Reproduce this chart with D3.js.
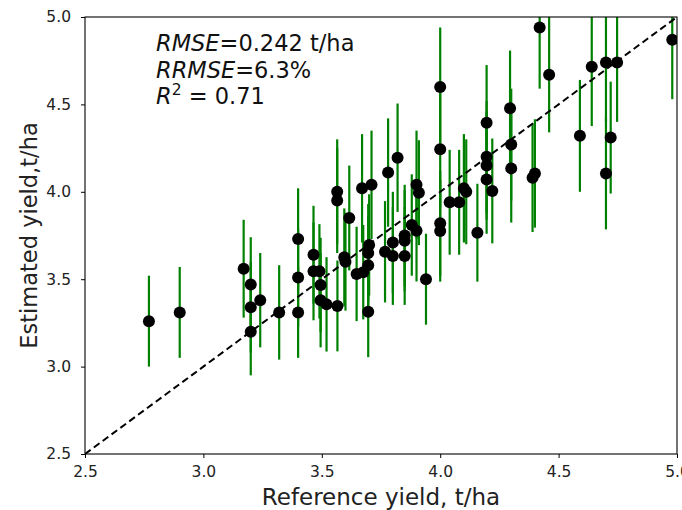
<!DOCTYPE html>
<html>
<head>
<meta charset="utf-8">
<script src="https://cdn.jsdelivr.net/npm/d3@7"></script>
<style>
  body { margin: 0; background: #fff; }
  svg { font-family: "DejaVu Sans", sans-serif; }
</style>
</head>
<body>
<svg id="chart"></svg>
<script>
// reference yield (x), estimated yield (y), error bar half length
var refYield = [2.77, 2.90, 3.17, 3.20, 3.20, 3.20, 3.24, 3.32, 3.40, 3.40, 3.40,
  3.465, 3.465, 3.49, 3.495, 3.495, 3.52, 3.565, 3.565, 3.566, 3.595, 3.60, 3.616,
  3.647, 3.67, 3.675, 3.696, 3.696, 3.70, 3.696, 3.71, 3.767, 3.78, 3.80, 3.80,
  3.82, 3.85, 3.85, 3.85, 3.88, 3.90, 3.90, 3.91, 3.94, 4.00, 4.00, 4.00, 4.00,
  4.04, 4.08, 4.10, 4.11, 4.157, 4.196, 4.196, 4.196, 4.196, 4.22, 4.295, 4.30,
  4.30, 4.39, 4.40, 4.42, 4.46, 4.59, 4.64, 4.70, 4.70, 4.72, 4.747, 4.98];
var estYield = [3.26, 3.31, 3.56, 3.47, 3.34, 3.20, 3.38, 3.31, 3.73, 3.51, 3.31,
  3.64, 3.545, 3.545, 3.467, 3.38, 3.356, 4.00, 3.95, 3.347, 3.625, 3.60, 3.85,
  3.53, 4.02, 3.54, 3.58, 3.65, 3.696, 3.314, 4.04, 3.657, 4.11, 3.71, 3.633,
  4.195, 3.75, 3.72, 3.633, 3.81, 3.777, 4.04, 3.995, 3.50, 4.60, 4.243, 3.82, 3.776,
  3.94, 3.94, 4.02, 4.00, 3.766, 4.395, 4.20, 4.15, 4.07, 4.005, 4.478, 4.27,
  4.134, 4.08, 4.105, 4.94, 4.67, 4.32, 4.716, 4.74, 4.105, 4.31, 4.74, 4.87];
var errYield = [0.26, 0.26, 0.28, 0.27, 0.26, 0.25, 0.27, 0.27, 0.29, 0.28, 0.26,
  0.28, 0.28, 0.27, 0.27, 0.27, 0.27, 0.30, 0.30, 0.26, 0.28, 0.28, 0.30,
  0.27, 0.31, 0.27, 0.28, 0.28, 0.29, 0.26, 0.31, 0.29, 0.31, 0.29, 0.28,
  0.31, 0.29, 0.29, 0.28, 0.29, 0.29, 0.31, 0.30, 0.26, 0.34, 0.33, 0.30, 0.29,
  0.30, 0.30, 0.31, 0.30, 0.28, 0.33, 0.32, 0.31, 0.31, 0.30, 0.33, 0.32,
  0.31, 0.31, 0.31, 0.35, 0.33, 0.32, 0.34, 0.34, 0.32, 0.32, 0.34, 0.34];

var xTicks = [2.5, 3.0, 3.5, 4.0, 4.5, 5.0];
var yTicks = [2.5, 3.0, 3.5, 4.0, 4.5, 5.0];

var width = 682,
    height = 510;
var margin = {left: 85, right: 5, top: 17, bottom: 56};

var svg = d3.select("#chart")
    .attr("width", width)
    .attr("height", height);

var x = d3.scaleLinear()
    .domain([2.5, 5.0])
    .range([margin.left, width - margin.right]);

var y = d3.scaleLinear()
    .domain([2.5, 5.0])
    .range([height - margin.bottom, margin.top]);

var points = refYield.map(function(d, i) {
  return {x: d, y: estYield[i], e: errYield[i]};
});

svg.append("clipPath")
    .attr("id", "plotclip")
  .append("rect")
    .attr("x", x(2.5))
    .attr("y", y(5.0))
    .attr("width", x(5.0) - x(2.5))
    .attr("height", y(2.5) - y(5.0));

var plot = svg.append("g")
    .attr("clip-path", "url(#plotclip)");

// error bars
plot.selectAll("line.err")
    .data(points)
  .enter().append("line")
    .attr("class", "err")
    .attr("x1", function(d) { return x(d.x); })
    .attr("x2", function(d) { return x(d.x); })
    .attr("y1", function(d) { return y(d.y - d.e); })
    .attr("y2", function(d) { return y(d.y + d.e); })
    .attr("stroke", "#008000")
    .attr("stroke-width", 2.2);

// 1:1 line
plot.append("line")
    .attr("x1", x(2.5))
    .attr("y1", y(2.5))
    .attr("x2", x(5.0))
    .attr("y2", y(5.0))
    .attr("stroke", "#000")
    .attr("stroke-width", 2)
    .attr("stroke-dasharray", "7,4");

// points
plot.selectAll("circle")
    .data(points)
  .enter().append("circle")
    .attr("cx", function(d) { return x(d.x); })
    .attr("cy", function(d) { return y(d.y); })
    .attr("r", 6)
    .attr("fill", "#000");

// axes
var xAxis = svg.append("g")
    .attr("transform", "translate(0," + y(2.5) + ")")
    .call(d3.axisBottom(x).tickValues(xTicks).tickFormat(d3.format(".1f")).tickSize(4).tickPadding(8));

var yAxis = svg.append("g")
    .attr("transform", "translate(" + x(2.5) + ",0)")
    .call(d3.axisLeft(y).tickValues(yTicks).tickFormat(d3.format(".1f")).tickSize(4).tickPadding(10));

[xAxis, yAxis].forEach(function(a) {
  a.select(".domain").remove();
  a.selectAll("text")
      .attr("font-size", "15.5px")
      .attr("font-family", "DejaVu Sans")
      .attr("fill", "#222");
  a.selectAll(".tick line").attr("stroke", "#000");
});

// frame
svg.append("rect")
    .attr("x", x(2.5))
    .attr("y", y(5.0))
    .attr("width", x(5.0) - x(2.5))
    .attr("height", y(2.5) - y(5.0))
    .attr("fill", "none")
    .attr("stroke", "#000")
    .attr("stroke-width", 1.1);

// axis labels
svg.append("text")
    .attr("x", (x(2.5) + x(5.0)) / 2)
    .attr("y", 505)
    .attr("text-anchor", "middle")
    .attr("font-size", "23px")
    .attr("fill", "#222")
    .text("Reference yield, t/ha");

svg.append("text")
    .attr("transform", "translate(37," + ((y(2.5) + y(5.0)) / 2) + ") rotate(-90)")
    .attr("text-anchor", "middle")
    .attr("font-size", "22.5px")
    .attr("fill", "#222")
    .text("Estimated yield,t/ha");

// stats annotation
var stats = svg.append("g").attr("font-size", "22.5px").attr("fill", "#111");

var t1 = stats.append("text").attr("x", 156).attr("y", 51);
t1.append("tspan").attr("font-style", "italic").text("RMSE");
t1.append("tspan").text("=0.242 t/ha");

var t2 = stats.append("text").attr("x", 156).attr("y", 78);
t2.append("tspan").attr("font-style", "italic").text("RRMSE");
t2.append("tspan").text("=6.3%");

var t3 = stats.append("text").attr("x", 156).attr("y", 104);
t3.append("tspan").attr("font-style", "italic").text("R");
t3.append("tspan").attr("font-size", "15.5px").attr("dy", -9).text("2");
t3.append("tspan").attr("dy", 9).text(" = 0.71");
</script>
</body>
</html>
